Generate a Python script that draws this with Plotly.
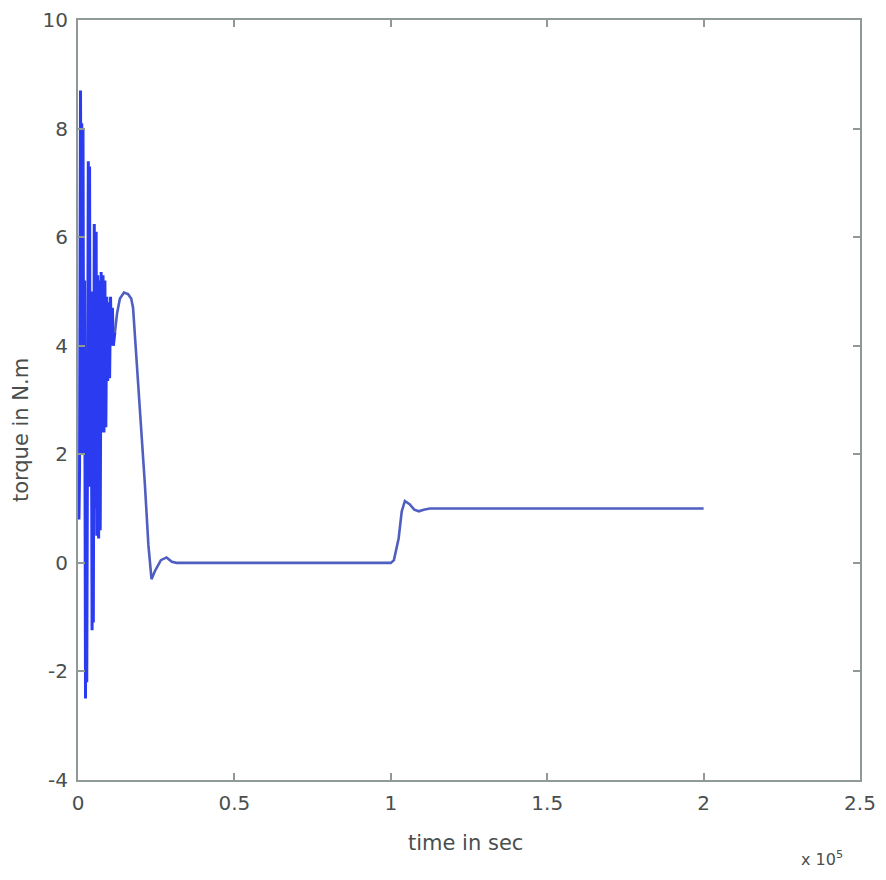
import plotly.graph_objects as go

# Start-up oscillation (time in units of 1e5 s, torque in N.m)
osc_x = [0.000, 0.003, 0.005, 0.008, 0.010, 0.012, 0.014, 0.016, 0.018,
         0.021, 0.024, 0.026, 0.028, 0.030,
         0.033, 0.035, 0.037, 0.039,
         0.042, 0.045, 0.047, 0.049,
         0.052, 0.055, 0.058, 0.060,
         0.063, 0.066, 0.069, 0.071,
         0.074, 0.077, 0.080, 0.083, 0.086, 0.089,
         0.092, 0.095, 0.098, 0.101, 0.104, 0.107, 0.110, 0.113, 0.118]
osc_y = [1.6, 0.8, 1.7, 8.7, 5.4, 8.1, 2.0, 8.0, 3.0,
         5.2, -2.5, 3.0, -2.2, 2.9,
         7.4, 3.0, 7.3, 1.4,
         5.0, -1.24, 3.0, -1.1,
         6.24, 1.0, 6.1, 0.5,
         5.3, 0.45, 5.2, 0.6,
         5.36, 2.4, 5.3, 2.4, 5.2, 2.5,
         4.9, 3.35, 4.8, 3.4, 4.9, 4.0, 4.7, 4.0, 4.25]

# Smooth response after start-up and the load step at t = 1e5
smooth_x = [0.118, 0.125, 0.134, 0.147, 0.160, 0.170, 0.176, 0.187, 0.198,
            0.214, 0.225, 0.235, 0.246, 0.265, 0.283, 0.300, 0.315,
            1.000, 1.010, 1.025, 1.035, 1.045, 1.060, 1.075, 1.090, 1.105,
            1.125, 2.000]
smooth_y = [4.25, 4.6, 4.87, 4.98, 4.95, 4.87, 4.7, 3.8, 2.8,
            1.43, 0.33, -0.3, -0.15, 0.05, 0.1, 0.02, 0.0,
            0.0, 0.05, 0.45, 0.95, 1.14, 1.08, 0.98, 0.95, 0.98,
            1.0, 1.0]

x_ticks = [0, 0.5, 1, 1.5, 2, 2.5]
x_tick_labels = ["0", "0.5", "1", "1.5", "2", "2.5"]
y_ticks = [-4, -2, 0, 2, 4, 6, 8, 10]
y_tick_labels = ["-4", "-2", "0", "2", "4", "6", "8", "10"]

fig = go.Figure()
fig.add_trace(go.Scatter(x=osc_x, y=osc_y, mode="lines",
                         line=dict(color="#2b3cf0", width=3),
                         showlegend=False))
fig.add_trace(go.Scatter(x=smooth_x, y=smooth_y, mode="lines",
                         line=dict(color="#4f5fbf", width=2.6),
                         showlegend=False))

axis_col = "#8f9a98"
font_col = "#4a4f4e"
fig.update_layout(
    width=886, height=880,
    margin=dict(l=70, r=34, t=12, b=108, autoexpand=False),
    paper_bgcolor="white", plot_bgcolor="white",
    font=dict(family="DejaVu Sans", size=20, color=font_col),
    xaxis=dict(range=[0, 2.5], tickvals=x_ticks, ticktext=x_tick_labels,
               showgrid=False, zeroline=False, showline=True, mirror="ticks",
               linecolor=axis_col, linewidth=2, ticks="inside", ticklen=7,
               tickcolor=axis_col, tickwidth=2, ticklabelstandoff=4,
               automargin=False,
               tickfont=dict(size=20, color=font_col)),
    yaxis=dict(range=[-4, 10], tickvals=y_ticks, ticktext=y_tick_labels,
               showgrid=False, zeroline=False, showline=True, mirror="ticks",
               linecolor=axis_col, linewidth=2, ticks="inside", ticklen=7,
               tickcolor=axis_col, tickwidth=2, ticklabelstandoff=4,
               automargin=False,
               tickfont=dict(size=20, color=font_col)),
    annotations=[
        dict(text="time in sec", xref="paper", yref="paper", x=0.495, y=-0.083,
             xanchor="center", yanchor="middle", showarrow=False,
             font=dict(size=21, color=font_col)),
        dict(text="torque in N.m", xref="paper", yref="paper", x=-0.072, y=0.46,
             xanchor="center", yanchor="middle", showarrow=False, textangle=-90,
             font=dict(size=21, color=font_col)),
        dict(text="x 10<sup>5</sup>", xref="paper", yref="paper", x=0.951, y=-0.103,
             xanchor="center", yanchor="middle", showarrow=False,
             font=dict(size=16, color=font_col)),
    ],
)

fig.write_html("out.html")
